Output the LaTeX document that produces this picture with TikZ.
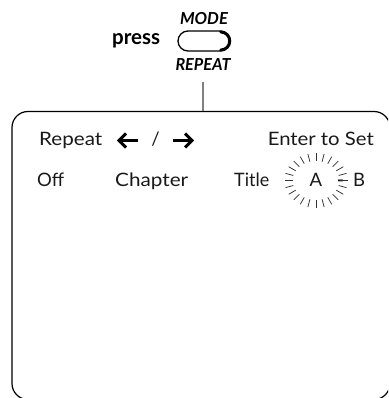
\documentclass[tikz,border=0pt]{standalone}
\usepackage{fontspec}
\setmainfont{Lato}
\usetikzlibrary{calc}
\newcommand\fw[2]{\resizebox{#1pt}{\height}{#2}}
\tikzset{
  scr/.style={font=\fontsize{18.5}{20}\selectfont, inner sep=0pt, text=black!90},
  lbl/.style={font=\fontsize{16.5}{18}\selectfont\bfseries\itshape, inner sep=0pt, anchor=base},
  presslbl/.style={font=\fontsize{21}{22}\selectfont\bfseries, inner sep=0pt, anchor=base west},
  bigarrow/.style={line width=3pt, black},
  ray/.style={line width=0.75pt, black!80},
}
\begin{document}
\begin{tikzpicture}[x=1pt,y=-1pt]
\useasboundingbox (0,0) rectangle (388,398);
\begin{scope}
\clip (0,0) rectangle (388,398);
\node[draw, line width=1.2pt, rounded corners=16pt, minimum width=378pt, minimum height=288pt, inner sep=0pt] (screen) at (201,255.5) {};
\end{scope}
% button
\node[presslbl] (press) at (112,45) {\fw{48}{press}};
\node[lbl] (mode) at (204,25) {\fw{48}{MODE}};
\node[draw, line width=1.3pt, rounded corners=10pt, minimum width=52pt, minimum height=20pt, inner sep=0pt] (button) at (204,41) {};
\draw[line width=3pt, line cap=round] ($(button.east)+(-10,-9.1)$) arc[start angle=-90, end angle=90, radius=9.1];
\node[lbl] (repeatlbl) at (203,71) {\fw{55}{REPEAT}};
\coordinate (linetop) at (203,82);
\draw[line width=2pt, black!50] (linetop) -- (linetop |- screen.north);
% row 1
\node[scr, anchor=base west] (rep) at (39,146) {\fw{63}{Repeat}};
\coordinate (la1) at (138,140.5);
\coordinate (la2) at (118.5,140.5);
\draw[bigarrow] (la1) -- (la2);
\draw[bigarrow, line join=miter] ($(la2)+(7.5,-7)$) -- ($(la2)+(0.5,0)$) -- ($(la2)+(7.5,7)$);
\node[scr, anchor=base] (slash) at (155.5,146) {/};
\coordinate (ra1) at (172.5,140.5);
\coordinate (ra2) at (192.5,140.5);
\draw[bigarrow] (ra1) -- (ra2);
\draw[bigarrow, line join=miter] ($(ra2)+(-7.5,-7)$) -- ($(ra2)+(-0.5,0)$) -- ($(ra2)+(-7.5,7)$);
\node[scr, anchor=base east] (enter) at (374,146) {\fw{106}{Enter to Set}};
% row 2
\node[scr, anchor=base west] (off) at (37,186) {\fw{27}{Off}};
\node[scr, anchor=base west] (chap) at (115,186) {\fw{73}{Chapter}};
\node[scr, anchor=base west] (title) at (234,186) {\fw{35}{Title}};
\node[scr, anchor=base] (a) at (316,186) {A};
\node[scr, anchor=base, font=\fontsize{18.5}{20}\selectfont\bfseries] (dash) at (340.5,186) {-};
\node[scr, anchor=base west] (b) at (353,186) {B};
\coordinate (burst) at (316,180.5);
\foreach \t in {0,15,...,345}{
  \draw[ray] ($(burst)+({23.5*cos(\t)},{19.5*sin(\t)})$) -- ($(burst)+({31.5*cos(\t)},{27.5*sin(\t)})$);
}
\end{tikzpicture}
\end{document}
